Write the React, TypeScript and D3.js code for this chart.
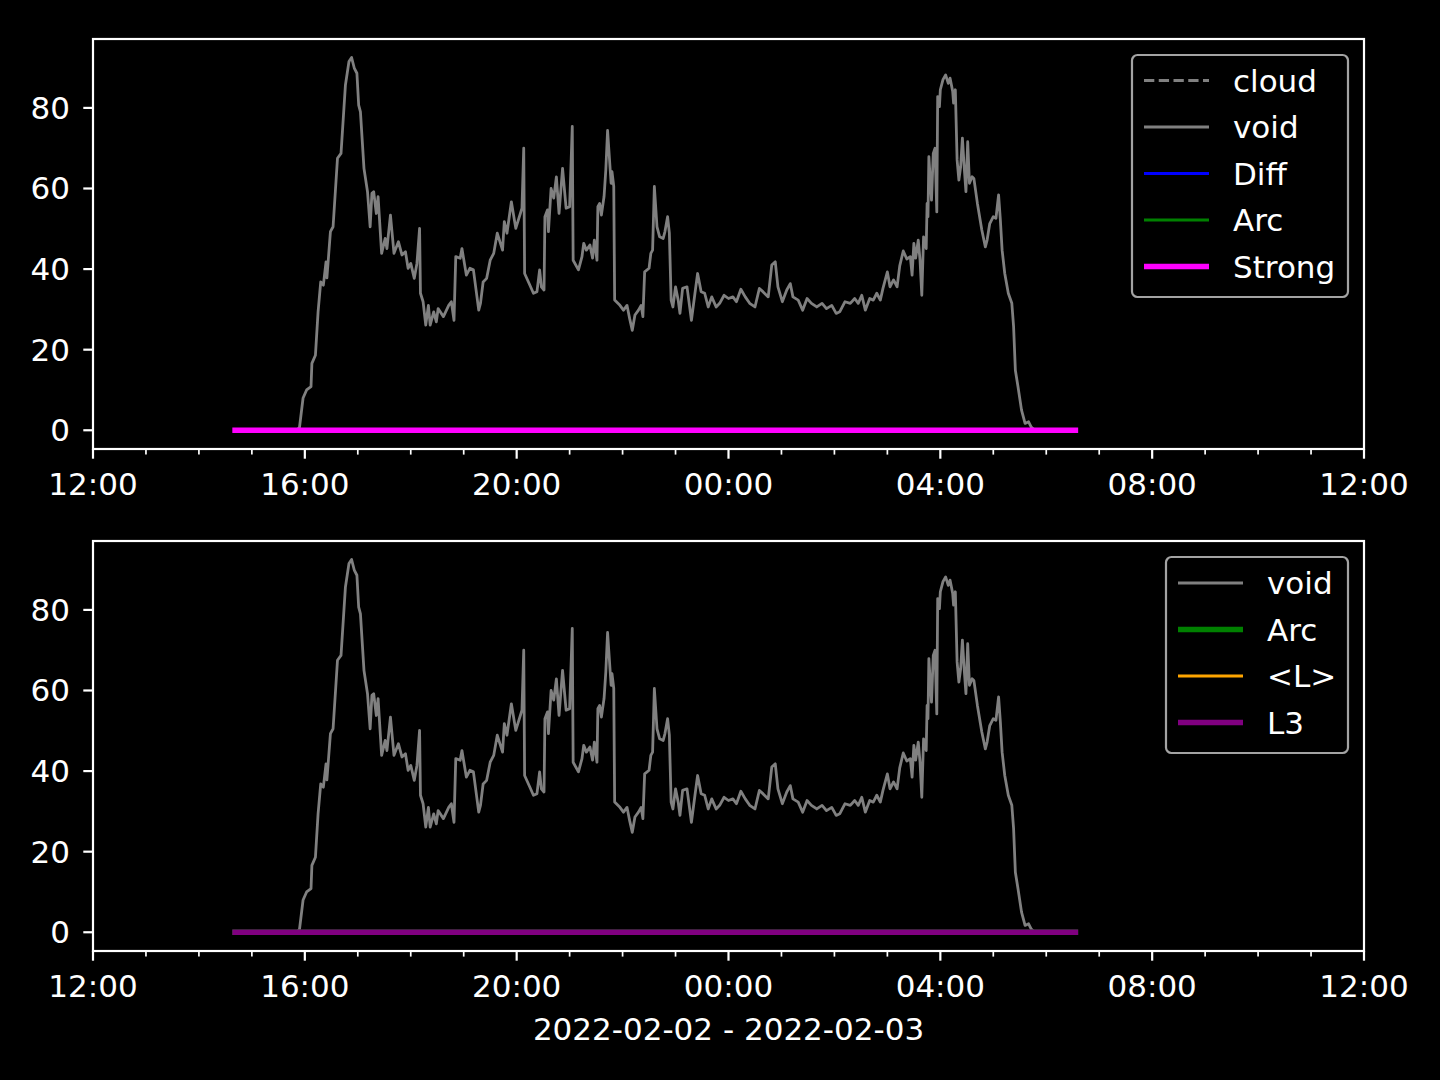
import React from "react";
import * as d3 from "d3";

// minutes after 2022-02-02 12:00
const voidMinutes = [
  161, 231, 234, 238, 242, 247, 248, 252, 255, 258, 261, 264, 265, 269, 272, 277, 281, 286, 290, 293, 296, 299,
  301, 303, 307, 311, 314, 316, 318, 321, 323, 327, 331, 333, 337, 341, 346, 350, 354, 357, 360, 364, 367, 370,
  371, 374, 377, 380, 382, 386, 389, 391, 397, 403, 406, 409, 411, 416, 418, 423, 427, 431, 437, 439, 442, 446,
  450, 454, 458, 461, 464, 466, 469, 474, 479, 486, 488, 489, 495, 499, 503, 506, 508, 511, 512, 515, 516, 519,
  522, 525, 528, 532, 536, 540, 543, 544, 550, 554, 556, 559, 563, 566, 568, 571, 572, 574, 576, 579, 581, 583,
  587, 588, 590, 591, 597, 601, 605, 608, 611, 614, 618, 621, 623, 625, 630, 632, 634, 636, 639, 642, 646, 648,
  651, 653, 655, 657, 660, 663, 665, 668, 673, 678, 682, 685, 689, 693, 697, 701, 706, 710, 715, 720, 725, 729,
  734, 739, 744, 750, 755, 759, 765, 769, 773, 776, 781, 786, 790, 793, 799, 804, 809, 814, 820, 826, 831, 837,
  842, 846, 852, 858, 863, 867, 871, 875, 880, 884, 888, 892, 895, 900, 903, 907, 911, 914, 918, 922, 926, 928,
  930, 932, 935, 937, 939, 941, 944, 945, 946, 947, 950, 952, 954, 956, 957, 959, 960, 963, 966, 969, 971, 974,
  975, 977, 979, 981, 983, 985, 987, 989, 991, 993, 996, 998, 1002, 1007, 1011, 1013, 1016, 1020, 1023, 1026,
  1028, 1030, 1033, 1037, 1041, 1043, 1045, 1048, 1052, 1056, 1060, 1063, 1067,
];
const voidValues = [
  0, 0, 0.8, 8, 10, 10.8, 16.6, 18.6, 29.4, 36.8, 36, 41.8, 37.8, 49.3, 50.5, 67.5, 68.7, 85.7, 91.5, 92.5, 89.9, 88.6,
  80.7, 79, 65, 59.2, 50.5, 58.8, 59.2, 53.8, 58, 43.9, 47.6, 45.1, 53.4, 43.9, 46.8, 43.5, 44.3, 40.2, 41.4, 37.7, 41.4, 50.1,
  34, 31.9, 26.1, 31, 26.1, 29.4, 26.9, 30.2, 28.2, 31, 31.9, 27.3, 43.1, 42.7, 45.1, 38.5, 40.2, 39.8, 29.8, 31.5, 36.8, 37.7,
  42.2, 43.9, 48.9, 46.8, 44.7, 51.8, 48.9, 56.7, 50.1, 55.1, 70, 38.9, 36, 34, 34.4, 39.8, 35.6, 34.8, 53, 54.7, 49.3, 60,
  57.6, 62.9, 53.8, 65, 55.1, 55.5, 75.4, 42.2, 39.8, 43.1, 46.4, 44.7, 46, 42.7, 47.2, 42.2, 55.5, 56.3, 53.4, 58, 64.6, 74.4,
  61.3, 64.2, 60.5, 32.3, 31, 29.8, 31, 27.7, 24.8, 28.6, 29.8, 31, 28.2, 39.3, 40.2, 43.9, 44.7, 60.5, 50.5, 48, 47.6, 49.3,
  53, 48.9, 32.3, 30.6, 35.6, 32.3, 29, 35.2, 35.6, 27.3, 34, 38.9, 34.4, 34, 30.6, 33.1, 30.6, 31.5, 33.5, 32.7, 33.1, 31.9,
  35, 33.1, 31.5, 30.6, 35.2, 34.4, 33.1, 41, 41.8, 35.6, 31.9, 34.8, 36.4, 33.1, 32.3, 29.8, 32.7, 31.5, 30.6, 31.5, 30.2, 31,
  29, 29.4, 31.9, 31.5, 32.7, 31.5, 33.5, 29.8, 32.7, 32.3, 34, 32.3, 35.2, 39.3, 35.6, 37.3, 35.6, 40.8, 44.5, 42.5, 43.1, 38.5,
  46.4, 42.7, 47.2, 42.2, 33.5, 48, 45.1, 56.3, 53, 67.9, 57.1, 68.7, 70, 54.2, 82.8, 80.3, 84.5, 87, 88.2, 86.1, 87.4, 84.1,
  81.2, 84.5, 67.1, 62.1, 65.4, 72.5, 65.4, 59.2, 71.6, 61.3, 62.9, 62.5, 56.3, 49.7, 45.5, 47.2, 51.3, 53, 52.6, 58.4,
  52.2, 44.7, 38.9, 34, 31.5, 25.7, 14.9, 10.8, 5, 1.7, 2.1, 0.8, 0,
];
// flat series (minutes after 12:00, value)
const flatMinutes = [161, 1113];
const flatValues = [0, 0];

const yTicks = [0, 20, 40, 60, 80];
const xTickHours = [0, 4, 8, 12, 16, 20, 24];
const xLabel = "2022-02-02 - 2022-02-03";
const topLegend = ["cloud", "void", "Diff", "Arc", "Strong"];
const bottomLegend = ["void", "Arc", "<L>", "L3"];

const t0 = new Date(2022, 1, 2, 12, 0);
const toDate = (m: number) => new Date(t0.getTime() + m * 60000);

const W = 1440;
const H = 1080;
const LEFT = 93;
const RIGHT = 1364;
const FONT = "DejaVu Sans, sans-serif";
const FS = 31;

type Pt = { t: Date; v: number };
const voidData: Pt[] = voidMinutes.map((m, i) => ({ t: toDate(m), v: voidValues[i] }));
const flatData: Pt[] = flatMinutes.map((m, i) => ({ t: toDate(m), v: flatValues[i] }));

const x = d3.scaleTime().domain([t0, toDate(24 * 60)]).range([LEFT, RIGHT]);

type LegendItem = { label: string; color: string; width: number; dash?: string };

function Panel({ top, bottom, id, flatSeries, legend, legendBox }: {
  top: number; bottom: number; id: string;
  flatSeries: { color: string; width: number }[];
  legend: LegendItem[];
  legendBox: { x0: number; x1: number; y0: number; y1: number; hx0: number; hx1: number; tx: number; ys: number[] };
}) {
  const y = d3.scaleLinear().domain([-4.65, 97.1]).range([bottom, top]);
  const line = d3.line<Pt>().x((d) => x(d.t)).y((d) => y(d.v));
  const hourTicks = d3.range(0, 25).map((h) => toDate(h * 60));
  return (
    <g>
      <defs>
        <clipPath id={id}>
          <rect x={LEFT} y={top} width={RIGHT - LEFT} height={bottom - top} />
        </clipPath>
      </defs>
      <g clipPath={`url(#${id})`}>
        <path d={line(voidData) || ""} fill="none" stroke="#808080" strokeWidth={2.78} strokeLinejoin="round" />
        {flatSeries.map((s, i) => (
          <path key={i} d={line(flatData) || ""} fill="none" stroke={s.color} strokeWidth={s.width} strokeLinecap="square" />
        ))}
      </g>
      <rect x={LEFT} y={top} width={RIGHT - LEFT} height={bottom - top} fill="none" stroke="#ffffff" strokeWidth={2.2} />
      {yTicks.map((v) => (
        <g key={v}>
          <line x1={LEFT - 9.7} x2={LEFT} y1={y(v)} y2={y(v)} stroke="#fff" strokeWidth={2.2} />
          <text x={70} y={y(v) + 11} fill="#fff" fontSize={FS} fontFamily={FONT} textAnchor="end">{v}</text>
        </g>
      ))}
      {hourTicks.map((d, i) => (
        <line key={i} x1={x(d)} x2={x(d)} y1={bottom} y2={bottom + (i % 4 === 0 ? 9.7 : 5.6)} stroke="#fff" strokeWidth={i % 4 === 0 ? 2.2 : 1.7} />
      ))}
      {xTickHours.map((h) => (
        <text key={h} x={x(toDate(h * 60))} y={bottom + 45.5} fill="#fff" fontSize={FS} fontFamily={FONT} textAnchor="middle">
          {d3.timeFormat("%H:%M")(toDate(h * 60))}
        </text>
      ))}
      <rect x={legendBox.x0} y={legendBox.y0} width={legendBox.x1 - legendBox.x0} height={legendBox.y1 - legendBox.y0}
        rx={5.5} fill="#000" stroke="#a3a3a3" strokeWidth={2.2} />
      {legend.map((it, i) => (
        <g key={it.label}>
          <line x1={legendBox.hx0} x2={legendBox.hx1} y1={legendBox.ys[i]} y2={legendBox.ys[i]} stroke={it.color}
            strokeWidth={it.width} strokeDasharray={it.dash} />
          <text x={legendBox.tx} y={legendBox.ys[i] + 11} fill="#fff" fontSize={FS} fontFamily={FONT}>{it.label}</text>
        </g>
      ))}
    </g>
  );
}

export default function App() {
  return (
    <svg width={W} height={H} style={{ position: "absolute", left: 0, top: 0, background: "#000" }}>
      <rect x={0} y={0} width={W} height={H} fill="#000" />
      <Panel
        id="clipTop"
        top={39}
        bottom={449}
        flatSeries={[{ color: "#0000ff", width: 2.78 }, { color: "#008000", width: 2.78 }, { color: "#ff00ff", width: 5.56 }]}
        legend={[
          { label: topLegend[0], color: "#808080", width: 2.78, dash: "10.3,4.45" },
          { label: topLegend[1], color: "#808080", width: 2.78 },
          { label: topLegend[2], color: "#0000ff", width: 2.78 },
          { label: topLegend[3], color: "#008000", width: 2.78 },
          { label: topLegend[4], color: "#ff00ff", width: 5.56 },
        ]}
        legendBox={{ x0: 1132, x1: 1348, y0: 55, y1: 297, hx0: 1144, hx1: 1209, tx: 1233, ys: [80.5, 127, 173.5, 220, 266.5] }}
      />
      <Panel
        id="clipBottom"
        top={541}
        bottom={951}
        flatSeries={[{ color: "#008000", width: 5.56 }, { color: "#ffa500", width: 2.78 }, { color: "#800080", width: 5.56 }]}
        legend={[
          { label: bottomLegend[0], color: "#808080", width: 2.78 },
          { label: bottomLegend[1], color: "#008000", width: 5.56 },
          { label: bottomLegend[2], color: "#ffa500", width: 2.78 },
          { label: bottomLegend[3], color: "#800080", width: 5.56 },
        ]}
        legendBox={{ x0: 1166, x1: 1348, y0: 557, y1: 753, hx0: 1178, hx1: 1243, tx: 1267, ys: [583, 629.5, 676, 722.5] }}
      />
      <text x={728.5} y={1040} fill="#fff" fontSize={FS} fontFamily={FONT} textAnchor="middle">{xLabel}</text>
    </svg>
  );
}
